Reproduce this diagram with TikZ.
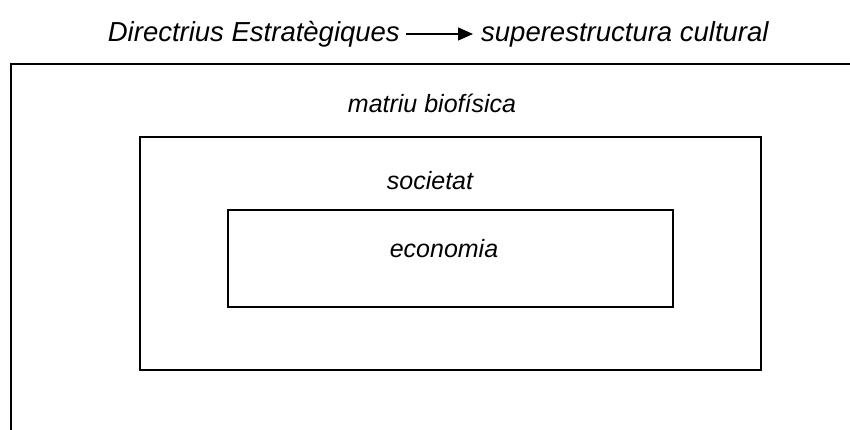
\documentclass[tikz,border=0pt]{standalone}
\usepackage{fontspec}
\setmainfont{Liberation Sans}
\usetikzlibrary{arrows.meta}

\begin{document}
\begin{tikzpicture}[x=1pt,y=1pt]

\useasboundingbox (0,0) rectangle (850,430);

% Labels
\tikzset{lbl/.style={font=\fontsize{25}{30}\selectfont\itshape, inner sep=0pt},
  ttl/.style={font=\fontsize{27.5}{32}\selectfont\itshape, inner sep=0pt}}

% Title
\node[ttl, anchor=east] (dir) at (400, 396) {Directrius Estratègiques};
\node[ttl, anchor=west] (sup) at (481, 396) {superestructura cultural};
\draw[line width=1.4pt, -{Triangle[length=15pt,width=13pt]}] ([xshift=6pt]dir.east) -- ([xshift=-8pt]sup.west);

% Outer frame (cut off)
\draw[line width=2pt] (10.5, 0) -- (10.5, 365.5) -- (850, 365.5);
\node[lbl] (mat) at (432, 327) {matriu biofísica};

% Middle box
\draw[line width=2pt] (140, 293) rectangle (761, 60);
\node[lbl] (soc) at (430, 249) {societat};

% Inner box
\draw[line width=1.6pt] (228, 220) rectangle (673, 123);
\node[lbl] (eco) at (444, 181) {economia};

\end{tikzpicture}
\end{document}
